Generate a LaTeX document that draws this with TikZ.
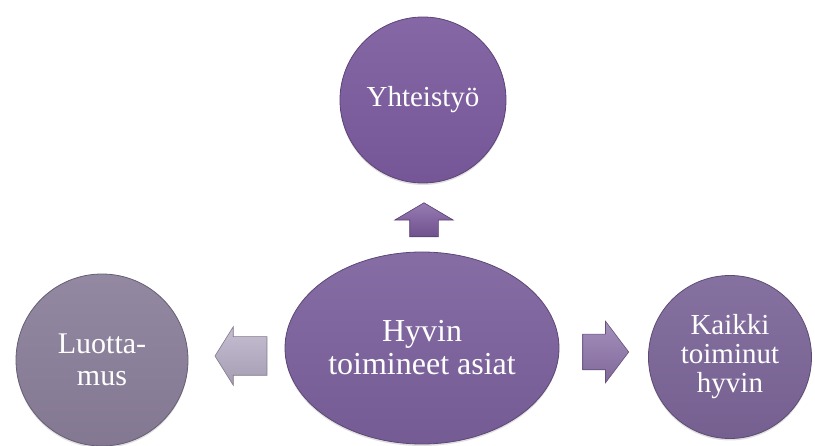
\documentclass[tikz,border=0pt]{standalone}
\usepackage{fontspec}
\setmainfont{Liberation Serif}
\usetikzlibrary{shapes.geometric,shapes.arrows,shadows}

\definecolor{hubviolet}{HTML}{7B609C}
\definecolor{topviolet}{HTML}{7B5A9E}
\definecolor{leftgrey}{HTML}{8A7E99}
\definecolor{rightviolet}{HTML}{7B6598}
\definecolor{uparrow}{HTML}{7C5A9E}
\definecolor{leftarrow}{HTML}{B7AEC6}
\definecolor{rightarrow}{HTML}{8E74AB}

\begin{document}
\begin{tikzpicture}[x=1pt, y=-1pt,
        every node/.style = {align=center, text=white, inner sep=0pt},
        bubble/.style = {draw=#1!75!black, top color=#1!92!white,
            bottom color=#1!95!black, line width=0.8pt,
            drop shadow={opacity=0.25, shadow xshift=0pt, shadow yshift=-2pt}},
        blockarrow/.style = {single arrow, draw=#1!70!black,
            top color=#1!80!white, bottom color=#1!90!black,
            line width=0.6pt, single arrow head indent=0pt, inner xsep=0pt}]

    \useasboundingbox (0,0) rectangle (815,446);

    % middle and the three results
    \node[bubble=hubviolet, ellipse, minimum width=274pt, minimum height=192pt,
        font=\fontsize{32}{33}\selectfont] (hub) at (422,348) {Hyvin\\toimineet asiat};
    \node[bubble=topviolet, circle, minimum size=166pt,
        font=\fontsize{29}{31}\selectfont] (yhteis) at (423,100) {Yhteistyö};
    \node[bubble=leftgrey, circle, minimum size=172pt,
        font=\fontsize{30}{32}\selectfont] (luotto) at (102,360) {Luotta-\\mus};
    \node[bubble=rightviolet, circle, minimum size=163pt,
        font=\fontsize{29}{29}\selectfont] (kaikki) at (730,357) {Kaikki\\toiminut\\hyvin};

    % block arrows
    \node[blockarrow=uparrow, rotate=90, minimum height=34pt, inner ysep=14pt,
        minimum width=58pt, single arrow head extend=15pt,
        single arrow tip angle=119] (toyhteis) at (424,224) {};
    \node[blockarrow=leftarrow, rotate=180, minimum height=52pt, inner ysep=19pt,
        minimum width=58pt, single arrow head extend=10pt,
        single arrow tip angle=116] (toluotto) at (247,356) {};
    \node[blockarrow=rightarrow, minimum height=46pt, inner ysep=17.5pt,
        minimum width=61pt, single arrow head extend=13pt,
        single arrow tip angle=106] (tokaikki) at (599,352) {};
\end{tikzpicture}
\end{document}
